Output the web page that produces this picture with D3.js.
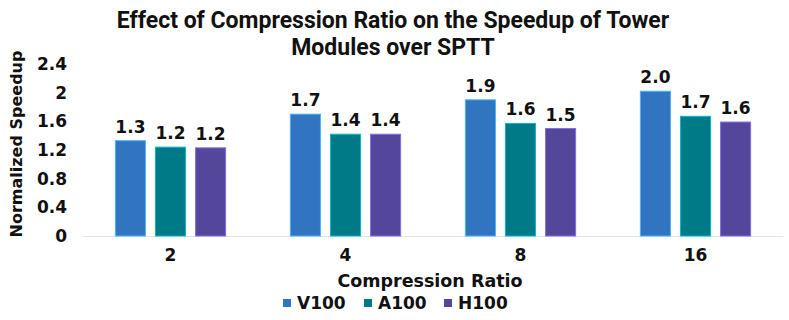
<!DOCTYPE html>
<html>
<head>
<meta charset="utf-8">
<script src="https://cdn.jsdelivr.net/npm/d3@7"></script>
<style>
  body { margin: 0; background: #fff; }
  text { font-family: "DejaVu Sans", sans-serif; font-weight: bold; fill: #111; }
  .title { font-family: Roboto, sans-serif; font-size: 23px; }
</style>
</head>
<body>
<div id="chart"></div>
<script>
const ratios = ['2', '4', '8', '16'];
const gpus = ['V100', 'A100', 'H100'];
const v100 = [1.33, 1.70, 1.90, 2.02];
const a100 = [1.24, 1.42, 1.57, 1.67];
const h100 = [1.23, 1.42, 1.50, 1.59];
const yTicks = [0, 0.4, 0.8, 1.2, 1.6, 2, 2.4];
const colors = ['#3174bf', '#007a87', '#54479b'];

const width = 789;
const height = 320;
const margin = { top: 64, right: 6, bottom: 84, left: 83 };

const rows = ratios.map((r, i) => ({ ratio: r, values: [v100[i], a100[i], h100[i]] }));

const svg = d3.select('#chart')
  .append('svg')
  .attr('width', width)
  .attr('height', height);

// Scales
const x0 = d3.scaleBand()
  .domain(ratios)
  .range([margin.left, width - margin.right])
  .paddingInner(0.37)
  .paddingOuter(0.185);

const x1 = d3.scaleBand()
  .domain(gpus)
  .range([0, x0.bandwidth()])
  .paddingInner(0.25);

const y = d3.scaleLinear()
  .domain([0, 2.4])
  .range([height - margin.bottom, margin.top]);

// Title
svg.append('text')
  .attr('class', 'title')
  .attr('x', 393)
  .attr('y', 28)
  .attr('text-anchor', 'middle')
  .text('Effect of Compression Ratio on the Speedup of Tower');
svg.append('text')
  .attr('class', 'title')
  .attr('x', 393)
  .attr('y', 55)
  .attr('text-anchor', 'middle')
  .text('Modules over SPTT');

// Y axis labels (no line)
svg.append('g')
  .selectAll('text')
  .data(yTicks)
  .enter()
  .append('text')
  .attr('x', 67)
  .attr('y', (d) => y(d))
  .attr('dy', '.36em')
  .attr('text-anchor', 'end')
  .style('font-size', '17px')
  .text((d) => d);

// Baseline
svg.append('line')
  .attr('x1', margin.left)
  .attr('x2', width - margin.right)
  .attr('y1', y(0) + 0.5)
  .attr('y2', y(0) + 0.5)
  .attr('stroke', '#e3e3e3')
  .attr('stroke-width', 1);

// Bars
const groups = svg.selectAll('.group')
  .data(rows)
  .enter()
  .append('g')
  .attr('class', 'group')
  .attr('transform', (d) => `translate(${x0(d.ratio)},0)`);

groups.selectAll('rect')
  .data((d) => d.values.map((v, i) => ({ gpu: gpus[i], value: v, i })))
  .enter()
  .append('rect')
  .attr('x', (d) => x1(d.gpu))
  .attr('y', (d) => y(d.value))
  .attr('width', x1.bandwidth())
  .attr('height', (d) => y(0) - y(d.value))
  .attr('fill', (d) => colors[d.i])
  .attr('stroke', (d) => d3.color(colors[d.i]).brighter(1.2))
  .attr('stroke-width', 1);

groups.selectAll('.label')
  .data((d) => d.values.map((v, i) => ({ gpu: gpus[i], value: v })))
  .enter()
  .append('text')
  .attr('class', 'label')
  .attr('x', (d) => x1(d.gpu) + x1.bandwidth() / 2)
  .attr('y', (d) => y(d.value) - 8)
  .attr('text-anchor', 'middle')
  .style('font-size', '17px')
  .text((d) => d.value.toFixed(1));

// X tick labels
svg.append('g')
  .selectAll('text')
  .data(ratios)
  .enter()
  .append('text')
  .attr('x', (d) => x0(d) + x0.bandwidth() / 2)
  .attr('y', 261)
  .attr('text-anchor', 'middle')
  .style('font-size', '17px')
  .text((d) => d);

// Axis titles
svg.append('text')
  .attr('x', 430)
  .attr('y', 287)
  .attr('text-anchor', 'middle')
  .style('font-size', '17.5px')
  .text('Compression Ratio');

svg.append('text')
  .attr('transform', `translate(22,${(y(0) + 52) / 2}) rotate(-90)`)
  .attr('text-anchor', 'middle')
  .style('font-size', '16px')
  .text('Normalized Speedup');

// Legend
const legendX = [283, 364, 444];
const legend = svg.selectAll('.legend')
  .data(gpus)
  .enter()
  .append('g')
  .attr('class', 'legend')
  .attr('transform', (d, i) => `translate(${legendX[i]},303)`);

legend.append('rect')
  .attr('x', 0)
  .attr('y', -4)
  .attr('width', 8)
  .attr('height', 8)
  .attr('fill', (d, i) => colors[i]);

legend.append('text')
  .attr('x', 14)
  .attr('y', 0)
  .attr('dy', '.36em')
  .style('font-size', '17px')
  .text((d) => d);
</script>
</body>
</html>
